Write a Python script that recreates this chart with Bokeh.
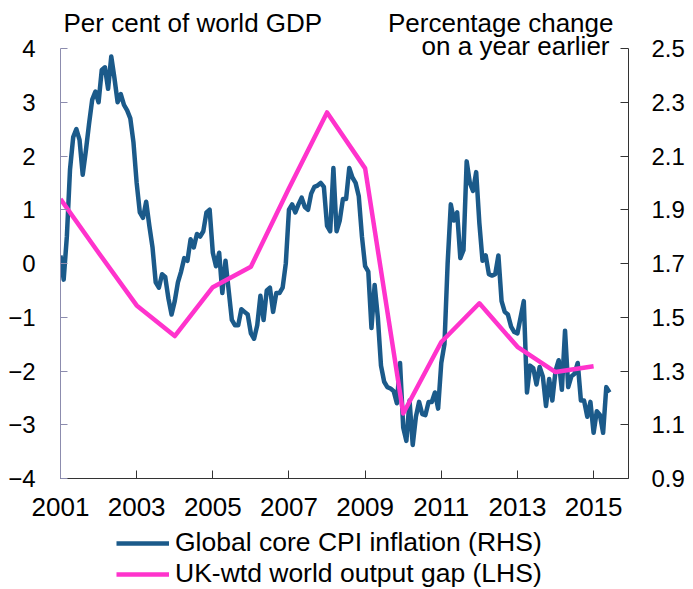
from bokeh.plotting import figure
from bokeh.models import (Range1d, LinearAxis, FixedTicker, Legend, LegendItem,
                          Label, ColumnDataSource)
from bokeh.layouts import column
from bokeh.embed import file_html
from bokeh.resources import INLINE

# ---------------- data ----------------
cpi_start_year = 2001  # monthly series starting January 2001
core_cpi_inflation = [
    1.73, 1.64, 1.80, 2.05, 2.17, 2.20, 2.16, 2.03, 2.12, 2.22, 2.31, 2.34,
    2.30, 2.42, 2.43, 2.35, 2.47, 2.39, 2.30, 2.33, 2.29, 2.27, 2.24, 2.15,
    2.00, 1.89, 1.87, 1.93, 1.84, 1.76, 1.63, 1.61, 1.66, 1.65, 1.57, 1.51,
    1.56, 1.63, 1.67, 1.72, 1.71, 1.79, 1.76, 1.81, 1.80, 1.82, 1.89, 1.90,
    1.74, 1.69, 1.74, 1.59, 1.71, 1.60, 1.49, 1.47, 1.47, 1.53, 1.52, 1.51,
    1.44, 1.42, 1.47, 1.58, 1.49, 1.60, 1.61, 1.52, 1.59, 1.59, 1.61, 1.70,
    1.90, 1.92, 1.89, 1.92, 1.945, 1.91, 1.90, 1.96, 1.985, 1.99, 2.00, 1.985,
    1.84, 1.82, 2.055, 1.82, 1.86, 1.94, 1.94, 2.055, 2.02, 2.00, 1.95, 1.80,
    1.69, 1.67, 1.46, 1.62, 1.50, 1.32, 1.26, 1.24, 1.235, 1.225, 1.18, 1.33,
    1.09, 1.04, 1.19, 1.025, 1.13, 1.185, 1.14, 1.136, 1.185, 1.185, 1.22, 1.16,
    1.33, 1.40, 1.70, 1.92, 1.86, 1.89, 1.72, 1.75, 2.08, 2.00, 1.97, 2.04,
    1.85, 1.71, 1.73, 1.66, 1.655, 1.66, 1.73, 1.56, 1.52, 1.51, 1.465, 1.445,
    1.44, 1.50, 1.56, 1.22, 1.32, 1.31, 1.25, 1.315, 1.28, 1.17, 1.27, 1.19,
    1.30, 1.34, 1.23, 1.45, 1.24, 1.28, 1.29, 1.33, 1.19, 1.19, 1.13, 1.185,
    1.07, 1.15, 1.136, 1.07, 1.24, 1.22,
]
gap_years = [2001, 2002, 2003, 2004, 2005, 2006, 2007, 2008,
             2009, 2010, 2011, 2012, 2013, 2014, 2015]
output_gap = [1.2, 0.2, -0.78, -1.35, -0.44, -0.06, 1.4, 2.81,
              1.77, -2.79, -1.46, -0.74, -1.55, -2.02, -1.91]
x_tick_years = [2001, 2003, 2005, 2007, 2009, 2011, 2013, 2015]
left_ticks = [-4, -3, -2, -1, 0, 1, 2, 3, 4]
right_ticks = [0.9, 1.1, 1.3, 1.5, 1.7, 1.9, 2.1, 2.3, 2.5]
axis_months = 179  # category axis length in months

# ---------------- layout constants ----------------
FONT = "Liberation Sans"
BLUE = "#1b5a8a"
PINK = "#ff33cc"
LEFT, RIGHT, TOP, BOTTOM = 60, 65, 10, 49
FRAME_W, FRAME_H = 568, 468
W = LEFT + FRAME_W + RIGHT
PX_PER_UNIT = 53.75            # left-axis pixels per unit
PX_PER_YEAR = FRAME_W / (axis_months / 12)

y_lo = left_ticks[0]
y_hi = y_lo + FRAME_H / PX_PER_UNIT
r_lo = right_ticks[0]
r_scale = (right_ticks[-1] - right_ticks[0]) / (left_ticks[-1] - left_ticks[0])
r_hi = r_lo + (y_hi - y_lo) * r_scale

cpi_x = [cpi_start_year + i / 12 for i in range(len(core_cpi_inflation))]
cpi_src = ColumnDataSource(dict(x=cpi_x, y=core_cpi_inflation))
gap_src = ColumnDataSource(dict(x=gap_years, y=output_gap))

p = figure(frame_width=FRAME_W, frame_height=FRAME_H,
           x_range=Range1d(cpi_start_year, cpi_start_year + axis_months / 12),
           y_range=Range1d(y_lo, y_hi),
           output_backend="svg", toolbar_location=None,
           min_border_left=LEFT, min_border_right=RIGHT,
           min_border_top=TOP, min_border_bottom=BOTTOM)
p.extra_y_ranges = {"rhs": Range1d(r_lo, r_hi)}
p.grid.visible = False
p.outline_line_color = None
p.background_fill_color = "white"

line_style = dict(line_width=4.5, line_join="round")
r_cpi = p.line("x", "y", source=cpi_src, y_range_name="rhs",
               line_color=BLUE, **line_style)
r_gap = p.line("x", "y", source=gap_src, line_color=PINK, **line_style)

# bottom axis
xa = p.xaxis[0]
xa.ticker = FixedTicker(ticks=x_tick_years)
xa.major_label_overrides = {y: str(y) for y in x_tick_years}
xa.axis_line_color = "#333333"
xa.major_tick_line_color = "#333333"
xa.major_tick_in = 8
xa.major_tick_out = 0
xa.minor_tick_line_color = None
xa.major_label_standoff = 19
xa.major_label_text_font = FONT
xa.major_label_text_font_size = "26px"
xa.major_label_text_color = "black"

# left axis
ya = p.yaxis[0]
ya.ticker = FixedTicker(ticks=left_ticks)
ya.bounds = (left_ticks[0], left_ticks[-1])
ya.axis_line_color = "#8c8cae"
ya.major_tick_line_color = "#8c8cae"
ya.major_tick_in = 7
ya.major_tick_out = 0
ya.minor_tick_line_color = None
ya.major_label_standoff = 25
ya.major_label_text_font = FONT
ya.major_label_text_font_size = "24px"
ya.major_label_text_color = "black"

# right axis
ra = LinearAxis(y_range_name="rhs", ticker=FixedTicker(ticks=right_ticks),
                bounds=(right_ticks[0], right_ticks[-1]))
ra.axis_line_color = "#333333"
ra.major_tick_line_color = "#333333"
ra.major_tick_in = 8
ra.major_tick_out = 0
ra.minor_tick_line_color = None
ra.major_label_standoff = 23
ra.major_label_text_font = FONT
ra.major_label_text_font_size = "24px"
ra.major_label_text_color = "black"
p.add_layout(ra, "right")

# axis titles (inside the extended frame, above the top ticks)
y4 = left_ticks[-1]
title_style = dict(text_font=FONT, text_font_size="26px", text_color="black",
                   text_baseline="alphabetic")
p.add_layout(Label(x=cpi_start_year + 3 / PX_PER_YEAR, y=y4 + 25.5 / PX_PER_UNIT,
                   text="Per cent of world GDP", text_align="left", **title_style))
p.add_layout(Label(x=cpi_start_year + 553 / PX_PER_YEAR, y=y4 + 25.5 / PX_PER_UNIT,
                   text="Percentage change", text_align="right", **title_style))
p.add_layout(Label(x=cpi_start_year + 549 / PX_PER_YEAR, y=y4 + 2.5 / PX_PER_UNIT,
                   text="on a year earlier", text_align="right", **title_style))

# ---------------- legend strip ----------------
lg = figure(width=W, height=62, x_range=Range1d(0, 1), y_range=Range1d(0, 1),
            x_axis_type=None, y_axis_type=None,
            output_backend="svg", toolbar_location=None,
            min_border=0, outline_line_color=None)
lg.grid.visible = False
# same series, drawn outside this strip's view: only their legend keys show
k_cpi = lg.line("x", "y", source=cpi_src, line_color=BLUE, **line_style)
k_gap = lg.line("x", "y", source=gap_src, line_color=PINK, **line_style)
legend = Legend(items=[
    LegendItem(label="Global core CPI inflation (RHS)", renderers=[k_cpi]),
    LegendItem(label="UK-wtd world output gap (LHS)", renderers=[k_gap]),
], location=(56, 0), orientation="vertical")
legend.label_text_font = FONT
legend.label_text_font_size = "26.5px"
legend.label_text_color = "black"
legend.glyph_width = 53
legend.glyph_height = 30
legend.label_height = 30
legend.label_standoff = 6
legend.spacing = 0
legend.padding = 0
legend.margin = 0
legend.border_line_color = None
legend.background_fill_alpha = 0
lg.add_layout(legend, "center")

layout = column(p, lg, spacing=0)
open("out.html", "w").write(file_html(layout, INLINE))
